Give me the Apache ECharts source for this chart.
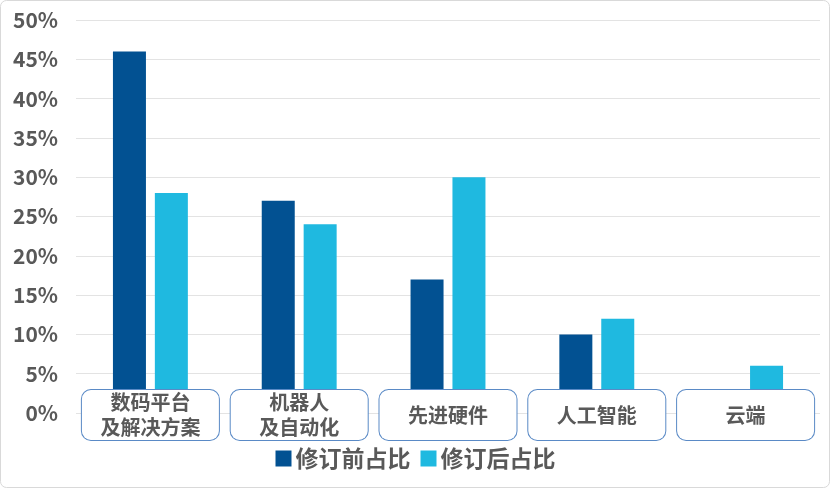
<!DOCTYPE html>
<html>
<head>
<meta charset="utf-8">
<script src="https://cdn.jsdelivr.net/npm/echarts@6/dist/echarts.min.js"></script>
<style>
html,body{margin:0;padding:0;background:#fff;}
#c{width:831px;height:489px;}
</style>
</head>
<body>
<div id="c"></div>
<script>
var categories = ['数码平台\n及解决方案', '机器人\n及自动化', '先进硬件', '人工智能', '云端'];
var beforeValues = [46, 27, 17, 10, null];
var afterValues = [28, 24, 30, 12, 6];
var seriesNames = ['修订前占比', '修订后占比'];

var chart = echarts.init(document.getElementById('c'));
var FONT = 'Noto Sans CJK SC';
var axisData = categories.map(function (c) {
  return c.indexOf('\n') >= 0 ? c : {value: c, textStyle: {lineHeight: 50}};
});
chart.setOption({
  animation: false,
  backgroundColor: '#fff',
  graphic: [{
    type: 'rect', z: -10, silent: true,
    shape: {x: 0.5, y: 0.5, width: 829, height: 487, r: 6},
    style: {fill: 'none', stroke: '#D9D9D9', lineWidth: 1}
  }],
  grid: {left: 76, right: 11, top: 20, bottom: 76, containLabel: false},
  legend: {
    data: seriesNames,
    top: 442, left: 'center',
    itemWidth: 16, itemHeight: 16, itemGap: 10,
    icon: 'rect',
    textStyle: {fontFamily: FONT, fontSize: 23, color: '#595959', fontWeight: 'bold', padding: [0, 0, 0, -1]}
  },
  xAxis: {
    type: 'category',
    data: axisData,
    z: 10,
    axisLine: {show: false},
    axisTick: {show: false},
    axisLabel: {
      interval: 0,
      margin: -23,
      fontFamily: FONT, fontSize: 20, fontWeight: 'bold', color: '#595959',
      lineHeight: 25,
      width: 137, height: 50,
      align: 'center', verticalAlign: 'top',
      backgroundColor: '#fff',
      borderColor: '#5A8AC6', borderWidth: 1, borderRadius: 9
    }
  },
  yAxis: {
    type: 'value',
    min: 0, max: 50, interval: 5,
    axisLine: {show: false},
    axisTick: {show: false},
    splitLine: {lineStyle: {color: '#E3E3E3', width: 1}},
    axisLabel: {
      formatter: '{value}%',
      margin: 18,
      fontFamily: FONT, fontSize: 21, fontWeight: 'bold', color: '#595959'
    }
  },
  series: [
    {name: seriesNames[0], type: 'bar', data: beforeValues, barWidth: 33, barGap: '27%', itemStyle: {color: '#025192'}},
    {name: seriesNames[1], type: 'bar', data: afterValues, barWidth: 33, itemStyle: {color: '#1FB9E0'}}
  ]
});
</script>
</body>
</html>
